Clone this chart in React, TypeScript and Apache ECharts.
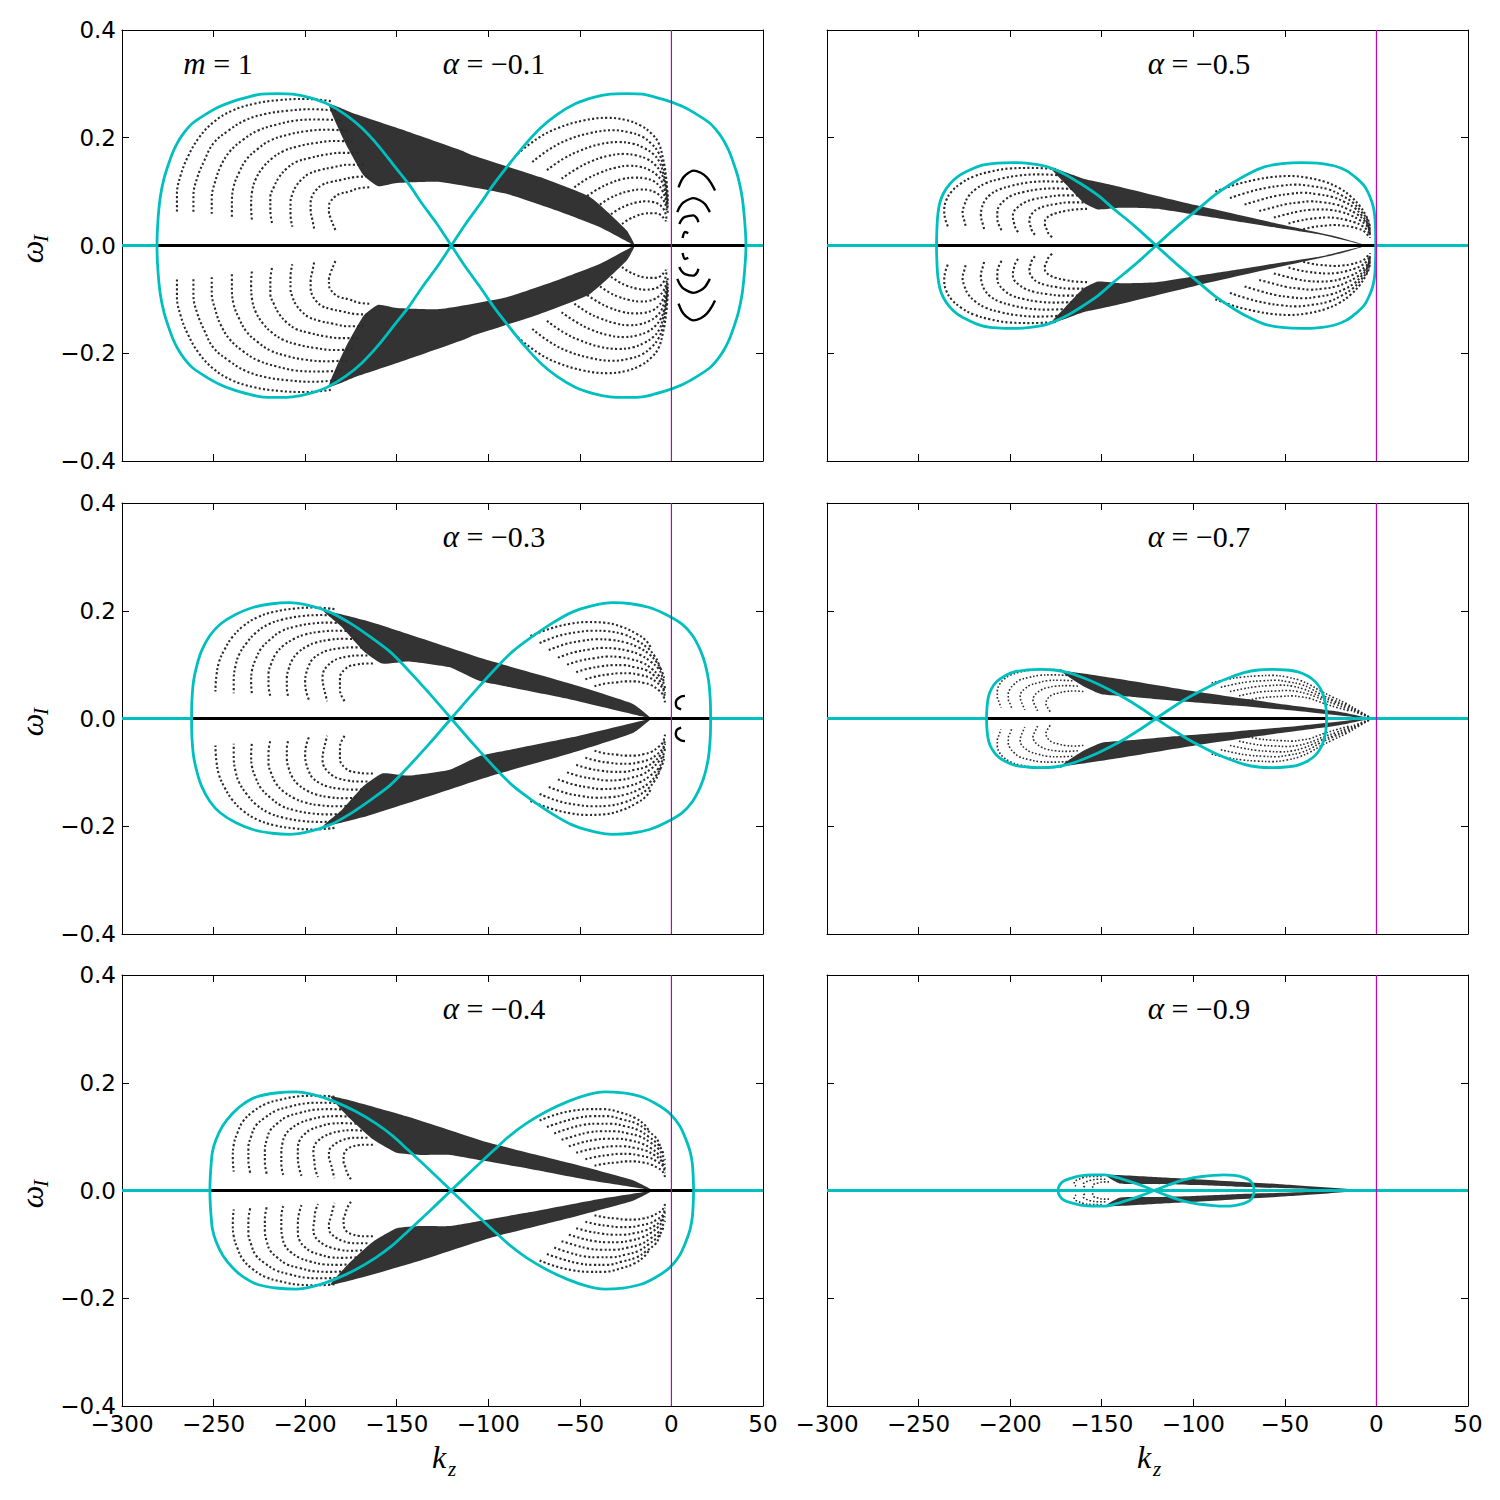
import React, { useEffect, useRef } from "react";
import * as echarts from "echarts";

// ---------- axis ticks ----------
const xMin = -300, xMax = 50, xStep = 50;
const yMin = -0.4, yMax = 0.4, yStep = 0.2;

// ---------- panel titles ----------
const alphaLabels = ["\u22120.1", "\u22120.5", "\u22120.3", "\u22120.7", "\u22120.4", "\u22120.9"];

// ---------- cyan boundary loops (upper halves; crossing -> outer extreme) ----------
const loopL01 = [[-120.2,0],[-128,0.04],[-136,0.077],[-143,0.112],[-150.7,0.145],[-160,0.185],[-169,0.218],[-178,0.243],[-188,0.263],[-198,0.275],[-207,0.281],[-215.4,0.282],[-224,0.281],[-230.8,0.276],[-239,0.268],[-247.2,0.257],[-255,0.242],[-261.8,0.226],[-266,0.21],[-269,0.195],[-272,0.175],[-274.5,0.152],[-277,0.125],[-279.1,0.09],[-280.4,0.045],[-280.9,0]];
const loopR01 = [[-120.2,0],[-112.4,0.04],[-104.5,0.077],[-97.4,0.112],[-90,0.145],[-80.5,0.185],[-71.5,0.218],[-62.5,0.243],[-52.5,0.263],[-42.5,0.275],[-33.5,0.281],[-24.5,0.282],[-16,0.281],[-9.5,0.276],[-1.5,0.268],[6.7,0.257],[14.5,0.242],[21.3,0.226],[25.5,0.21],[28.5,0.195],[31.5,0.175],[34,0.152],[36.5,0.125],[38.6,0.09],[40,0.045],[40.7,0]];
const loopL05 = [[-120.3,0],[-132,0.036],[-143.8,0.069],[-152,0.093],[-161.6,0.115],[-170,0.132],[-179.5,0.146],[-189,0.152],[-198.4,0.154],[-207,0.153],[-215.2,0.149],[-222,0.14],[-228.6,0.128],[-233,0.114],[-236.4,0.097],[-238.4,0.079],[-239.5,0.057],[-240,0.03],[-240.2,0]];
const loopR05 = [[-120.3,0],[-108.6,0.036],[-96.9,0.069],[-88.5,0.093],[-79,0.115],[-70.5,0.132],[-61.2,0.146],[-51.5,0.152],[-41,0.154],[-32.5,0.153],[-23.2,0.148],[-16.5,0.139],[-10.9,0.125],[-6.5,0.11],[-3.6,0.091],[-1.8,0.073],[-0.9,0.054],[-0.5,0.03],[-0.4,0]];
const loopL03 = [[-120.3,0],[-133,0.05],[-146,0.098],[-154,0.125],[-163.8,0.15],[-175,0.176],[-186.2,0.197],[-197,0.209],[-208.5,0.215],[-218,0.213],[-228.6,0.206],[-238,0.193],[-246.4,0.175],[-252,0.154],[-256.5,0.126],[-259,0.1],[-260.9,0.07],[-261.8,0.035],[-262,0]];
const loopR03 = [[-120.3,0],[-107.5,0.05],[-94.6,0.098],[-86.5,0.125],[-76.8,0.15],[-65.5,0.176],[-54.5,0.197],[-43.5,0.209],[-32.1,0.215],[-22,0.213],[-12,0.206],[-3,0.193],[5.8,0.175],[11.5,0.154],[15.9,0.126],[18.5,0.1],[20.3,0.07],[21.2,0.035],[21.4,0]];
const loopL07 = [[-120.3,0],[-128.5,0.019],[-137,0.037],[-145,0.052],[-152.7,0.065],[-160.5,0.076],[-168.3,0.085],[-176,0.09],[-183.9,0.091],[-191,0.09],[-197.3,0.087],[-203,0.079],[-207.4,0.068],[-210.2,0.055],[-211.8,0.041],[-212.6,0.022],[-212.9,0]];
const loopR07 = [[-120.3,0],[-112,0.019],[-103.6,0.037],[-95.5,0.052],[-87.9,0.065],[-80,0.076],[-72.3,0.085],[-64.5,0.09],[-56.7,0.091],[-49.5,0.09],[-43.3,0.087],[-37.5,0.079],[-33.3,0.068],[-30.5,0.055],[-28.8,0.041],[-27.6,0.022],[-27.2,0]];
const loopL04 = [[-120.3,0],[-132,0.038],[-143.7,0.075],[-152,0.101],[-161.6,0.125],[-172.5,0.147],[-183.9,0.165],[-194.5,0.177],[-205.1,0.183],[-216,0.181],[-226.3,0.174],[-234,0.16],[-239.7,0.143],[-245,0.12],[-248.7,0.094],[-250.6,0.072],[-251.3,0.05],[-251.8,0.025],[-252,0]];
const loopR04 = [[-120.3,0],[-108.6,0.038],[-96.9,0.075],[-88.5,0.101],[-79,0.125],[-68,0.147],[-56.7,0.165],[-46.5,0.177],[-36.6,0.183],[-26.5,0.181],[-16.5,0.174],[-8,0.16],[-0.9,0.143],[4.5,0.12],[8,0.094],[10.2,0.072],[11.4,0.05],[11.9,0.025],[12.1,0]];
const loopL09 = [[-121.4,0],[-128,0.009],[-134.8,0.017],[-141.5,0.024],[-148.2,0.029],[-155,0.029],[-161.6,0.027],[-166.5,0.023],[-170.5,0.018],[-172.8,0.011],[-173.9,0]];
const loopR09 = [[-121.4,0],[-114.5,0.009],[-108,0.017],[-101,0.023],[-95,0.026],[-89,0.028],[-83.5,0.029],[-77.5,0.028],[-72.3,0.024],[-69.2,0.019],[-67.6,0.012],[-66.7,0]];

// ---------- dense bands of eigenvalues (upper halves, closed polygons) ----------
const band01 = [[-187,0.262],[-172.6,0.244],[-145.3,0.213],[-114.3,0.176],[-108.2,0.167],[-71.8,0.127],[-44.5,0.09],[-24.4,0.028],[-19.9,0],[-21.7,0.003],[-39,0.034],[-62.7,0.065],[-90,0.096],[-126.4,0.118],[-150,0.116],[-160,0.11],[-168,0.13],[-178,0.19]];
const band05 = [[-178,0.145],[-160,0.124],[-143.8,0.112],[-99,0.075],[-54.5,0.041],[-21,0.016],[-5,0],[-8,0.002],[-30,0.02],[-54.5,0.033],[-80,0.047],[-99,0.057],[-120,0.068],[-140,0.07],[-152,0.067],[-160,0.08],[-170,0.115]];
const band03 = [[-190,0.2],[-166,0.181],[-143.8,0.157],[-99,0.107],[-54.5,0.064],[-21,0.027],[-11,0],[-16,0.004],[-54.5,0.035],[-88,0.058],[-105,0.07],[-121,0.095],[-143.8,0.106],[-158,0.102],[-168,0.125],[-180,0.17]];
const band07 = [[-172,0.088],[-143.8,0.075],[-99,0.05],[-54.5,0.028],[-21,0.013],[-3,0],[-10,0.002],[-43,0.014],[-77,0.024],[-110,0.033],[-133,0.04],[-150,0.045],[-160,0.06]];
const band04 = [[-186,0.175],[-143.8,0.137],[-99,0.088],[-54.5,0.05],[-21,0.019],[-10,0],[-15,0.003],[-43,0.018],[-77,0.04],[-104,0.056],[-121,0.066],[-137,0.066],[-150,0.07],[-163,0.095],[-176,0.135]];
const band09 = [[-148,0.029],[-121,0.025],[-99,0.021],[-54.5,0.012],[-5,0],[-20,0.001],[-77,0.007],[-99,0.01],[-121,0.012],[-140,0.013]];

// ---------- dotted arcs inside lobes (upper halves) ----------
const arcsL01 = [
  [[-186,0.268],[-200,0.272],[-214,0.27],[-228,0.263],[-240,0.25],[-250,0.229],[-258,0.2],[-264,0.165],[-268,0.13],[-270,0.095],[-270,0.06]],
  [[-183,0.25],[-196,0.253],[-210,0.25],[-222,0.244],[-233,0.232],[-242,0.213],[-250,0.19],[-255,0.158],[-259,0.125],[-261,0.092],[-261,0.06]],
  [[-180,0.232],[-192,0.234],[-205,0.232],[-216,0.224],[-226,0.213],[-234,0.196],[-241,0.175],[-246,0.148],[-249,0.12],[-251,0.088],[-251,0.055]],
  [[-177,0.213],[-188,0.215],[-200,0.212],[-210,0.205],[-219,0.195],[-226,0.179],[-232,0.16],[-236,0.136],[-239,0.11],[-240,0.08],[-240,0.05]],
  [[-174,0.193],[-184,0.194],[-195,0.19],[-204,0.184],[-212,0.175],[-218,0.162],[-223,0.145],[-227,0.123],[-229,0.1],[-229.5,0.072],[-229,0.045]],
  [[-171,0.172],[-180,0.172],[-190,0.168],[-198,0.162],[-205,0.155],[-210,0.143],[-214,0.128],[-217,0.109],[-219,0.09],[-219,0.065],[-218,0.04]],
  [[-168,0.15],[-176,0.15],[-185,0.145],[-192,0.14],[-198,0.133],[-202,0.122],[-205,0.11],[-207,0.095],[-208,0.08],[-208,0.058],[-207,0.035]],
  [[-166,0.128],[-173,0.127],[-180,0.122],[-186,0.118],[-191,0.112],[-194,0.103],[-196,0.093],[-197,0.079],[-197,0.065],[-196,0.047],[-195,0.03]],
  [[-165,0.108],[-171,0.106],[-176,0.1],[-181,0.096],[-184,0.09],[-186,0.082],[-187,0.074],[-187,0.062],[-186,0.05],[-184.5,0.037],[-183,0.025]],
];
const arcsR01 = [
  [[-84,0.17],[-73,0.199],[-62,0.218],[-48,0.232],[-35,0.237],[-25,0.233],[-17,0.223],[-11,0.208],[-7,0.19],[-4.5,0.16],[-3,0.13],[-2,0.09]],
  [[-76,0.155],[-66,0.18],[-56,0.197],[-44,0.209],[-32,0.214],[-23,0.21],[-16,0.202],[-11,0.189],[-7,0.172],[-4.5,0.148],[-3,0.12],[-2,0.082]],
  [[-68,0.14],[-59,0.161],[-50,0.176],[-39,0.188],[-29,0.192],[-21,0.189],[-15,0.181],[-10,0.17],[-6.5,0.155],[-4.5,0.134],[-3,0.11],[-2,0.075]],
  [[-60,0.124],[-52,0.142],[-44,0.156],[-35,0.166],[-26,0.17],[-19,0.167],[-13,0.16],[-9,0.15],[-6,0.137],[-4,0.12],[-3,0.1],[-2,0.068]],
  [[-53,0.108],[-46,0.124],[-39,0.135],[-31,0.144],[-23,0.148],[-17,0.146],[-12,0.14],[-8,0.131],[-5.5,0.12],[-4,0.106],[-3,0.09],[-2,0.06]],
  [[-46,0.092],[-40,0.105],[-34,0.115],[-27,0.123],[-20,0.126],[-15,0.125],[-10,0.12],[-7,0.112],[-5,0.102],[-3.5,0.089],[-2.5,0.075]],
  [[-39,0.076],[-34,0.087],[-29,0.095],[-23,0.101],[-17,0.104],[-12.5,0.103],[-9,0.099],[-6.5,0.093],[-4.5,0.085],[-3,0.073],[-2.5,0.06]],
  [[-33,0.058],[-28.5,0.068],[-24,0.075],[-19,0.08],[-14,0.082],[-10.5,0.081],[-7.5,0.078],[-5.5,0.073],[-4,0.066],[-3,0.056],[-2.5,0.045]],
  [[-27,0.04],[-23,0.049],[-19,0.055],[-15,0.059],[-11,0.06],[-8.5,0.06],[-6,0.057],[-4.5,0.052],[-3,0.045]],
];
const arcsL05 = [
  [[-175,0.142],[-188,0.144],[-200,0.143],[-211,0.137],[-220,0.128],[-227,0.115],[-232,0.1],[-235,0.083],[-236,0.065],[-235.5,0.05],[-234,0.035]],
  [[-172,0.13],[-184,0.132],[-195,0.13],[-205,0.124],[-213,0.116],[-219,0.104],[-223,0.09],[-225,0.075],[-226,0.06],[-225,0.046],[-224,0.032]],
  [[-169,0.118],[-180,0.119],[-190,0.117],[-199,0.111],[-206,0.104],[-211,0.094],[-214,0.082],[-215.5,0.069],[-216,0.055],[-215,0.041],[-214,0.028]],
  [[-166,0.105],[-176,0.106],[-185,0.104],[-193,0.099],[-199,0.093],[-203,0.084],[-206,0.073],[-207,0.062],[-207,0.05],[-206,0.037],[-204,0.025]],
  [[-163,0.093],[-172,0.093],[-180,0.09],[-187,0.086],[-192,0.08],[-195.5,0.072],[-198,0.063],[-198.5,0.053],[-198,0.043],[-197,0.032],[-195,0.022]],
  [[-160,0.08],[-168,0.08],[-175,0.077],[-181,0.073],[-185,0.068],[-187.5,0.061],[-189,0.054],[-189.5,0.045],[-189,0.037],[-188,0.027],[-186,0.018]],
  [[-158,0.068],[-164,0.067],[-170,0.064],[-175,0.06],[-178,0.056],[-180,0.051],[-181,0.045],[-181,0.037],[-180,0.03],[-179,0.022],[-177,0.015]],
];
const arcsR05 = [
  [[-88,0.1],[-77,0.113],[-66,0.122],[-57,0.127],[-48,0.129],[-38,0.126],[-28,0.118],[-20,0.106],[-14,0.091],[-9,0.073],[-5.5,0.054],[-4,0.042],[-3.5,0.03]],
  [[-80,0.088],[-70,0.099],[-60,0.107],[-52,0.111],[-44,0.113],[-35,0.11],[-26,0.104],[-19,0.093],[-13,0.08],[-8.5,0.064],[-5,0.048],[-4,0.037],[-3.5,0.026]],
  [[-72,0.076],[-63,0.085],[-55,0.092],[-47,0.096],[-40,0.098],[-32,0.095],[-24,0.09],[-17.5,0.081],[-12,0.07],[-8,0.056],[-5,0.042],[-3.5,0.022]],
  [[-64,0.064],[-56,0.071],[-49,0.077],[-42,0.08],[-36,0.082],[-29,0.08],[-22,0.076],[-16,0.068],[-11,0.059],[-7,0.048],[-4.5,0.036],[-3.5,0.018]],
  [[-56,0.052],[-49,0.058],[-43,0.063],[-37,0.066],[-31,0.067],[-25,0.066],[-19,0.062],[-14,0.056],[-9.5,0.048],[-6,0.039],[-4,0.03],[-3.5,0.014]],
  [[-48,0.041],[-42,0.046],[-37,0.049],[-32,0.051],[-27,0.052],[-22,0.051],[-17,0.048],[-12,0.043],[-8,0.037],[-5.5,0.03],[-4,0.023]],
  [[-40,0.03],[-35,0.034],[-31,0.036],[-27,0.037],[-23,0.038],[-18.5,0.037],[-14,0.035],[-10,0.031],[-7,0.027],[-4,0.016]],
];
const arcsL03 = [
  [[-184,0.203],[-195,0.206],[-206,0.204],[-217,0.198],[-226,0.188],[-234,0.171],[-240,0.15],[-244,0.128],[-247,0.105],[-248.5,0.078],[-249,0.05]],
  [[-181,0.19],[-191,0.192],[-202,0.19],[-212,0.184],[-220,0.175],[-227,0.159],[-232,0.14],[-236,0.119],[-238,0.098],[-239,0.072],[-239,0.047]],
  [[-178,0.176],[-187,0.178],[-197,0.176],[-206,0.17],[-213,0.162],[-219,0.147],[-224,0.13],[-227,0.11],[-229,0.09],[-229.5,0.067],[-229,0.044]],
  [[-175,0.162],[-183,0.163],[-192,0.161],[-200,0.156],[-206,0.148],[-212,0.135],[-216,0.12],[-218.5,0.102],[-220,0.083],[-220,0.062],[-219,0.041]],
  [[-172,0.147],[-179,0.148],[-187,0.146],[-194,0.141],[-199,0.134],[-204,0.122],[-207,0.109],[-209,0.092],[-210,0.075],[-210,0.056],[-209,0.038]],
  [[-169,0.132],[-175,0.132],[-182,0.13],[-188,0.126],[-192,0.12],[-196,0.11],[-198,0.098],[-199.5,0.083],[-200,0.068],[-199.5,0.051],[-198,0.035]],
  [[-166,0.117],[-171,0.117],[-177,0.115],[-182,0.111],[-185,0.106],[-188,0.097],[-190,0.087],[-190.5,0.074],[-190,0.06],[-189,0.046],[-188,0.032]],
  [[-163,0.102],[-167,0.102],[-172,0.1],[-176,0.097],[-178,0.092],[-180,0.085],[-181,0.076],[-181,0.065],[-181,0.053],[-180,0.041],[-178,0.03]],
];
const arcsR03 = [
  [[-77,0.153],[-66,0.167],[-55,0.176],[-46,0.179],[-37,0.178],[-27,0.17],[-19,0.157],[-14,0.145],[-11,0.13]],
  [[-72,0.14],[-62,0.153],[-52,0.16],[-43,0.163],[-35,0.162],[-26,0.156],[-19,0.145],[-13,0.131],[-9,0.115],[-7,0.102],[-6,0.09]],
  [[-67,0.127],[-58,0.138],[-49,0.144],[-41,0.147],[-33,0.146],[-25,0.141],[-18,0.132],[-12,0.119],[-8,0.104],[-5.5,0.09],[-4,0.075]],
  [[-62,0.113],[-53,0.123],[-45,0.128],[-38,0.131],[-31,0.13],[-24,0.126],[-17,0.118],[-11.5,0.106],[-7,0.092],[-5,0.078],[-4,0.065]],
  [[-57,0.1],[-49,0.108],[-42,0.112],[-35,0.115],[-28,0.114],[-22,0.11],[-16,0.104],[-11,0.093],[-7,0.08],[-4.5,0.068],[-3.5,0.056]],
  [[-52,0.086],[-45,0.093],[-38,0.097],[-32,0.099],[-26,0.099],[-20,0.095],[-14,0.09],[-9.5,0.08],[-6,0.068],[-4.5,0.058],[-3.5,0.047]],
  [[-47,0.073],[-40,0.079],[-34,0.082],[-28.5,0.084],[-23,0.084],[-17.5,0.081],[-12,0.076],[-8,0.067],[-5,0.057],[-4,0.048],[-3.5,0.038]],
  [[-42,0.06],[-36,0.065],[-30,0.067],[-25,0.069],[-20,0.069],[-15,0.066],[-11,0.062],[-7.5,0.054],[-5,0.046],[-4,0.038],[-3.5,0.03]],
];
const arcsL07 = [
  [[-172,0.09],[-180,0.091],[-188,0.09],[-195,0.086],[-200,0.08],[-204,0.071],[-206,0.062],[-207,0.051],[-207,0.04],[-206,0.03],[-205,0.02]],
  [[-169,0.08],[-177,0.081],[-184,0.08],[-190,0.076],[-195,0.071],[-198,0.063],[-200,0.055],[-201,0.046],[-201,0.036],[-200,0.027],[-199,0.018]],
  [[-166,0.07],[-173,0.071],[-180,0.07],[-185,0.066],[-189,0.062],[-192,0.055],[-194,0.048],[-194.5,0.04],[-194,0.032],[-193,0.024],[-192,0.016]],
  [[-163,0.06],[-169,0.061],[-175,0.06],[-180,0.057],[-183,0.053],[-185.5,0.047],[-187,0.041],[-187.5,0.034],[-187,0.028],[-186,0.021],[-185,0.014]],
  [[-160,0.05],[-165,0.051],[-170,0.05],[-174,0.047],[-177,0.044],[-179,0.039],[-180,0.034],[-180.5,0.028],[-180,0.023],[-179,0.017],[-178,0.012]],
];
const arcsR07 = [
  [[-90,0.066],[-81,0.073],[-73,0.077],[-65,0.079],[-57,0.08],[-49,0.077],[-42,0.071],[-36,0.062],[-31,0.052],[-24,0.04],[-16,0.027],[-10,0.015],[-4,0.003]],
  [[-85,0.058],[-77,0.064],[-70,0.068],[-62,0.07],[-55,0.071],[-48,0.068],[-41,0.063],[-35.5,0.055],[-31,0.046],[-24,0.035],[-16,0.024],[-10,0.013],[-4,0.003]],
  [[-80,0.05],[-73,0.055],[-66,0.059],[-59,0.061],[-52,0.062],[-46,0.06],[-40,0.055],[-35,0.048],[-30,0.04],[-23,0.031],[-16,0.021],[-10,0.012],[-4,0.002]],
  [[-75,0.042],[-68,0.047],[-62,0.05],[-55,0.051],[-49,0.052],[-43,0.05],[-38,0.046],[-33,0.04],[-29,0.034],[-22,0.026],[-16,0.018],[-10,0.01],[-4,0.002]],
  [[-70,0.034],[-64,0.038],[-58,0.04],[-52,0.041],[-46,0.042],[-41,0.04],[-36,0.037],[-32,0.032],[-28,0.027],[-21,0.02],[-15,0.014]],
];
const arcsL04 = [
  [[-184,0.174],[-193,0.176],[-203,0.175],[-213,0.169],[-222,0.16],[-229,0.145],[-234,0.128],[-237,0.107],[-239,0.085],[-239.5,0.06],[-239,0.035]],
  [[-181,0.162],[-190,0.163],[-199,0.162],[-208,0.156],[-216,0.148],[-222,0.135],[-227,0.12],[-229.5,0.1],[-231,0.08],[-231,0.056],[-230,0.033]],
  [[-178,0.15],[-186,0.151],[-195,0.15],[-203,0.144],[-210,0.137],[-215,0.125],[-219,0.112],[-221,0.094],[-222,0.075],[-222,0.053],[-221,0.031]],
  [[-175,0.137],[-182,0.138],[-190,0.137],[-197,0.132],[-203,0.125],[-208,0.114],[-211,0.102],[-212.5,0.086],[-213,0.069],[-213,0.049],[-212,0.029]],
  [[-172,0.124],[-179,0.125],[-186,0.124],[-192,0.119],[-197,0.113],[-200.5,0.104],[-203,0.093],[-204,0.078],[-204,0.063],[-203.5,0.045],[-202,0.027]],
  [[-169,0.111],[-175,0.112],[-181,0.11],[-186,0.106],[-190,0.1],[-193,0.092],[-195,0.083],[-195.5,0.07],[-195,0.056],[-194.5,0.04],[-193,0.025]],
  [[-166,0.098],[-171,0.098],[-176,0.097],[-180,0.093],[-183,0.088],[-185.5,0.081],[-187,0.073],[-187,0.061],[-186,0.05],[-185,0.036],[-184,0.023]],
  [[-163,0.085],[-167,0.085],[-171,0.084],[-174.5,0.081],[-177,0.077],[-178.5,0.07],[-179,0.063],[-179,0.053],[-178,0.043],[-177,0.032],[-175,0.021]],
];
const arcsR04 = [
  [[-72,0.13],[-63,0.141],[-54,0.148],[-45,0.151],[-37,0.151],[-28,0.145],[-20,0.135],[-15,0.123],[-12,0.11]],
  [[-68,0.118],[-59,0.128],[-51,0.135],[-43,0.138],[-35,0.138],[-27,0.132],[-19,0.124],[-13.5,0.112],[-9,0.1],[-7,0.09],[-6,0.08]],
  [[-64,0.106],[-56,0.115],[-48,0.122],[-40,0.124],[-33,0.124],[-25,0.119],[-18,0.112],[-12.5,0.1],[-8,0.088],[-5.5,0.077],[-4,0.065]],
  [[-60,0.094],[-52,0.102],[-45,0.108],[-38,0.11],[-31,0.11],[-24,0.106],[-17,0.1],[-11.5,0.089],[-7,0.077],[-5,0.066],[-3.5,0.056]],
  [[-56,0.082],[-49,0.089],[-42,0.094],[-35.5,0.096],[-29,0.096],[-22.5,0.093],[-16,0.087],[-11,0.078],[-7,0.067],[-5,0.057],[-3.5,0.048]],
  [[-52,0.07],[-45,0.076],[-38,0.08],[-32,0.082],[-26,0.082],[-20,0.079],[-14,0.074],[-9.5,0.066],[-6,0.057],[-4.5,0.048],[-3.5,0.04]],
  [[-47,0.058],[-40.5,0.063],[-34,0.066],[-28.5,0.068],[-23,0.068],[-17.5,0.065],[-12,0.061],[-8,0.054],[-5,0.047],[-4,0.04],[-3.5,0.032]],
  [[-42,0.046],[-36,0.05],[-30,0.052],[-25,0.054],[-20,0.054],[-15.5,0.052],[-11,0.048],[-7.5,0.042],[-5,0.036],[-4,0.03],[-3.5,0.025]],
];
const arcsL09 = [
  [[-150,0.026],[-155,0.026],[-160,0.024],[-163,0.02],[-165,0.016],[-165,0.012],[-164,0.008]],
  [[-148,0.021],[-152,0.021],[-156,0.019],[-158.5,0.016],[-160,0.012],[-160,0.009],[-159,0.006]],
  [[-146,0.016],[-149,0.016],[-152,0.014],[-154,0.012],[-155,0.009],[-155,0.007],[-154,0.005]],
];
const arcsR09: number[][][] = [];

// ---------- solid unstable branches right of kz = 0 (upper halves) ----------
const solid01 = [
  [[3.9,0.108],[5.5,0.121],[7.5,0.13],[12,0.139],[16,0.135],[19.2,0.127],[21.8,0.115],[23.8,0.102]],
  [[3.2,0.062],[4.6,0.072],[6.5,0.08],[12,0.088],[15.5,0.084],[18.3,0.077],[21,0.062]],
  [[4.3,0.04],[5.6,0.048],[7.4,0.053],[12,0.056],[14,0.05],[14.7,0.043]],
  [[6.1,0.014],[7.4,0.025],[9.2,0.023]],
];
const solid03 = [
  [[7.4,0.042],[5.5,0.041],[4,0.038],[2.8,0.034],[2.4,0.029],[3,0.021],[5.3,0.017]],
];

// ---------- y = 0 branch extents ----------
const zeroBlack = [[-280.9,40.7],[-240.2,-0.4],[-262,21.4],[-212.9,-27.2],[-275,20],[-173.9,-66.7]];
const cyanZeroOnTop = [false,false,false,false,false,true];
const purpleX = [0, 0, 0, 0, 0, 0];

const panels = [
  { L: loopL01, R: loopR01, band: band01, aL: arcsL01, aR: arcsR01, solid: solid01 },
  { L: loopL05, R: loopR05, band: band05, aL: arcsL05, aR: arcsR05, solid: [] },
  { L: loopL03, R: loopR03, band: band03, aL: arcsL03, aR: arcsR03, solid: solid03 },
  { L: loopL07, R: loopR07, band: band07, aL: arcsL07, aR: arcsR07, solid: [] },
  { L: loopL04, R: loopR04, band: band04, aL: arcsL04, aR: arcsR04, solid: [] },
  { L: loopL09, R: loopR09, band: band09, aL: arcsL09, aR: arcsR09, solid: [] },
];

// ---------- layout ----------
const GRID_LEFTS = [122, 827];
const GRID_TOPS = [30, 503, 975];
const GRID_W = 641;
const GRID_H = 431;
const CYAN = "#00BFBF";
const PURPLE = "#BF00BF";
const SERIF = '"Liberation Serif", "DejaVu Serif", serif';

const fmt = (v: number, d: number) => {
  if (Math.abs(v) < 1e-9) v = 0;
  return v.toFixed(d).replace("-", "\u2212");
};
const mir = (pts: number[][]) => pts.map(([x, y]) => [x, -y]);
const rev = (pts: number[][]) => pts.slice().reverse();

function buildOption() {
  const grid: any[] = [];
  const xAxis: any[] = [];
  const yAxis: any[] = [];
  const series: any[] = [];
  const graphic: any[] = [];

  panels.forEach((p, i) => {
    const col = i % 2;
    const row = Math.floor(i / 2);
    grid.push({ left: GRID_LEFTS[col], top: GRID_TOPS[row], width: GRID_W, height: GRID_H });
    const axisLine = { show: true, onZero: false, lineStyle: { color: "#000", width: 1 } };
    const tick = { show: true, inside: true, length: 7, lineStyle: { color: "#000", width: 1 } };
    const lbl = { fontSize: 23, fontFamily: "DejaVu Sans", color: "#000" };
    xAxis.push({
      type: "value", gridIndex: i, min: xMin, max: xMax, interval: xStep, position: "bottom",
      axisLine, axisTick: tick, splitLine: { show: false },
      axisLabel: { show: row === 2, ...lbl, margin: 6, formatter: (v: number) => fmt(v, 0) },
    });
    xAxis.push({
      type: "value", gridIndex: i, min: xMin, max: xMax, interval: xStep, position: "top",
      axisLine, axisTick: tick, splitLine: { show: false }, axisLabel: { show: false },
    });
    yAxis.push({
      type: "value", gridIndex: i, min: yMin, max: yMax, interval: yStep, position: "left",
      axisLine, axisTick: tick, splitLine: { show: false },
      axisLabel: { show: col === 0, ...lbl, margin: 6, formatter: (v: number) => fmt(v, 1) },
    });
    yAxis.push({
      type: "value", gridIndex: i, min: yMin, max: yMax, interval: yStep, position: "right",
      axisLine, axisTick: tick, splitLine: { show: false }, axisLabel: { show: false },
    });
    const xi = 2 * i;
    const yi = 2 * i;
    const small = i === 3 || i === 5;

    const line = (data: any[], style: any, z: number, smooth: any = 0.3) => ({
      type: "line", xAxisIndex: xi, yAxisIndex: yi, data, symbol: "none", smooth,
      silent: true, lineStyle: style, z, animation: false,
    });
    const poly = (pts: number[][], fill: string, z: number) => ({
      type: "custom", xAxisIndex: xi, yAxisIndex: yi, silent: true, clip: true, z,
      data: [[pts[0][0], pts[0][1]]],
      renderItem: (_params: any, api: any) => ({
        type: "polygon",
        shape: { points: pts.map((pt) => api.coord(pt)), smooth: 0.15 },
        style: { fill },
      }),
    });

    // dense bands
    series.push(poly(p.band, "#333333", 1));
    series.push(poly(mir(p.band), "#333333", 1));

    // dotted arcs
    const dotStyle = small
      ? { color: "#2a2a2a", width: 1.6, type: [1.6, 2.0] }
      : { color: "#2a2a2a", width: 2.1, type: [2.1, 2.3] };
    [...p.aL, ...p.aR].forEach((arc) => {
      series.push(line(arc, dotStyle, 2, 0.4));
      series.push(line(mir(arc), dotStyle, 2, 0.4));
    });

    // y=0 black branch
    const [za, zb] = zeroBlack[i];
    series.push(line([[za, 0], [zb, 0]], { color: "#000", width: 3 }, 3, false));

    // cyan boundary
    const loop = [...p.R, ...mir(rev(p.R)).slice(1), ...p.L.slice(1), ...mir(rev(p.L)).slice(1)];
    series.push(line(loop, { color: CYAN, width: 2.8 }, 5, 0.3));
    if (cyanZeroOnTop[i]) {
      series.push(line([[xMin, 0], [xMax, 0]], { color: CYAN, width: 2.8 }, 5, false));
    } else {
      const lm = p.L[p.L.length - 1][0];
      const rm = p.R[p.R.length - 1][0];
      series.push(line([[xMin, 0], [lm, 0]], { color: CYAN, width: 2.8 }, 5, false));
      series.push(line([[rm, 0], [xMax, 0]], { color: CYAN, width: 2.8 }, 5, false));
    }

    // solid branches
    p.solid.forEach((arc) => {
      series.push(line(arc, { color: "#000", width: 2.4 }, 6));
      series.push(line(mir(arc), { color: "#000", width: 2.4 }, 6));
    });

    // purple kz=0 line
    series.push(line([[purpleX[i], yMin], [purpleX[i], yMax]], { color: PURPLE, width: 1.2 }, 7, false));

    // titles
    const ty = GRID_TOPS[row] + 33;
    const tx = GRID_LEFTS[col] + 372;
    graphic.push({
      type: "text", x: tx, y: ty, silent: true,
      style: {
        text: "{i|\u03b1} = " + alphaLabels[i],
        rich: { i: { fontStyle: "italic", fontFamily: SERIF, fontSize: 31, fill: "#000", color: "#000" } },
        font: `30px ${SERIF}`, fill: "#000",
        align: "center", verticalAlign: "middle", textAlign: "center", textVerticalAlign: "middle",
      },
    });
    if (i === 0) {
      graphic.push({
        type: "text", x: 218, y: ty, silent: true,
        style: {
          text: "{i|m} = 1",
          rich: { i: { fontStyle: "italic", fontFamily: SERIF, fontSize: 31, fill: "#000", color: "#000" } },
          font: `30px ${SERIF}`, fill: "#000",
          align: "center", verticalAlign: "middle", textAlign: "center", textVerticalAlign: "middle",
        },
      });
    }
    if (col === 0) {
      graphic.push({
        type: "group", x: 32, y: GRID_TOPS[row] + 222, rotation: Math.PI / 2, silent: true,
        children: [
          { type: "text", x: 0, y: 0, style: { text: "\u03c9", font: `italic 32px ${SERIF}`, fill: "#000", align: "center", verticalAlign: "middle" } },
          { type: "text", x: 10, y: 9, style: { text: "I", font: `italic 21px ${SERIF}`, fill: "#000", align: "left", verticalAlign: "middle" } },
        ],
      });
    }
    if (row === 2) {
      const kx = GRID_LEFTS[col] + 317;
      graphic.push({ type: "text", x: kx, y: 1457, silent: true, style: { text: "k", font: `italic 32px ${SERIF}`, fill: "#000", align: "center", verticalAlign: "middle" } });
      graphic.push({ type: "text", x: kx + 9, y: 1469, silent: true, style: { text: "z", font: `italic 21px ${SERIF}`, fill: "#000", align: "left", verticalAlign: "middle" } });
    }
  });

  return { animation: false, backgroundColor: "#fff", grid, xAxis, yAxis, series, graphic };
}

export default function App() {
  const ref = useRef<HTMLDivElement>(null);
  useEffect(() => {
    document.body.style.margin = "0";
    const chart = echarts.init(ref.current as HTMLDivElement, null, { renderer: "svg" });
    chart.setOption(buildOption() as any);
    return () => chart.dispose();
  }, []);
  return <div ref={ref} style={{ width: 1500, height: 1500 }} />;
}
